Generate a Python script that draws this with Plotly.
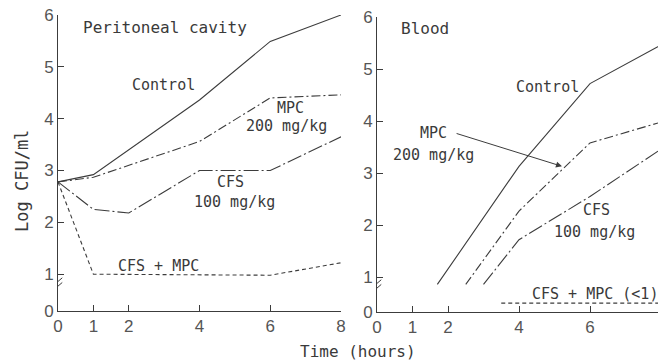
import plotly.graph_objects as go

# ---------------- data ----------------
# Peritoneal cavity (left panel)
pc_control_t = [0, 1, 4, 6, 8]
pc_control_v = [2.78, 2.92, 4.36, 5.49, 6.0]
pc_mpc_t = [0, 1, 4, 6, 8]
pc_mpc_v = [2.78, 2.87, 3.56, 4.40, 4.46]
pc_cfs_t = [0, 1, 2, 4, 6, 8]
pc_cfs_v = [2.78, 2.25, 2.18, 3.0, 3.0, 3.65]
pc_combo_t = [0, 1, 6, 8]
pc_combo_v = [2.78, 1.0, 0.98, 1.22]

# Blood (right panel)
bl_control_t = [1.7, 4, 6, 8]
bl_control_v = [0.86, 3.13, 4.72, 5.46]
bl_mpc_t = [2.5, 4, 6, 8]
bl_mpc_v = [0.86, 2.27, 3.58, 3.98]
bl_cfs_t = [3.0, 4, 6, 8]
bl_cfs_v = [0.86, 1.72, 2.55, 3.46]
bl_combo_t = [3.5, 8]
bl_combo_v = [0.5, 0.5]   # plotted below the axis break ("<1")

x_ticks = [0, 1, 2, 4, 6, 8]
y_ticks_left = [0.29, 1, 2, 3, 4, 5, 6]
y_ticks_right = [0.33, 1, 2, 3, 4, 5, 6]
y_tick_text = ["0", "1", "2", "3", "4", "5", "6"]

# ---------------- styling ----------------
W, H = 658, 362
LINE = "#3c3c3c"
TXT = "#3a3a3a"
TICKC = "#555555"
LBL_FONT = dict(family="DejaVu Sans Mono", size=15, color=TXT)
TICK_FONT = dict(family="Liberation Sans", size=17, color=TICKC)

dash_mpc = "9px,3px,2px,3px"
dash_cfs = "15px,3px,2px,3px"
dash_combo = "4px,3px"

fig = go.Figure()

def add(t, v, dash, ax):
    fig.add_trace(go.Scatter(
        x=t, y=v, mode="lines",
        line=dict(color=LINE, width=1.1, dash=dash),
        xaxis="x" if ax == 1 else "x2",
        yaxis="y" if ax == 1 else "y2",
        showlegend=False, hoverinfo="skip"))

add(pc_control_t, pc_control_v, "solid", 1)
add(pc_mpc_t, pc_mpc_v, dash_mpc, 1)
add(pc_cfs_t, pc_cfs_v, dash_cfs, 1)
add(pc_combo_t, pc_combo_v, dash_combo, 1)
add(bl_control_t, bl_control_v, "solid", 2)
add(bl_mpc_t, bl_mpc_v, dash_mpc, 2)
add(bl_cfs_t, bl_cfs_v, dash_cfs, 2)
add(bl_combo_t, bl_combo_v, dash_combo, 2)

axis_common = dict(
    showgrid=False, zeroline=False, showline=True, linecolor=LINE, linewidth=1,
    ticks="inside", ticklen=6, tickcolor=LINE, tickwidth=1,
    tickfont=TICK_FONT, automargin=False, fixedrange=True)

fig.update_layout(
    width=W, height=H,
    margin=dict(l=0, r=0, t=0, b=0),
    paper_bgcolor="white", plot_bgcolor="white",
    xaxis=dict(domain=[58 / W, 341 / W], range=[0, 8],
               tickvals=x_ticks, anchor="y", **axis_common),
    yaxis=dict(domain=[(H - 311) / H, (H - 15) / H], range=[0.29, 6],
               tickvals=y_ticks_left, ticktext=y_tick_text, anchor="x",
               **axis_common),
    xaxis2=dict(domain=[377 / W, 1.0], range=[0, (W - 377) / 35.5],
                tickvals=x_ticks, anchor="y2", **axis_common),
    yaxis2=dict(domain=[(H - 312) / H, (H - 17) / H], range=[0.33, 6],
                tickvals=y_ticks_right, ticktext=y_tick_text, anchor="x2",
                **axis_common),
)

ann = []
def label(text, x, y, ax, xanchor="center", size=None):
    f = dict(LBL_FONT)
    if size:
        f["size"] = size
    ann.append(dict(text=text, x=x, y=y,
                    xref="x" if ax == 1 else "x2",
                    yref="y" if ax == 1 else "y2",
                    xanchor=xanchor, yanchor="middle",
                    showarrow=False, font=f))

# left panel labels
label("Peritoneal cavity", 0.66, 5.76, 1, xanchor="left", size=16)
label("Control", 2.97, 4.65, 1)
label("MPC", 6.57, 4.21, 1)
label("200 mg/kg", 6.46, 3.85, 1)
label("CFS", 4.87, 2.77, 1)
label("100 mg/kg", 4.99, 2.40, 1)
label("CFS + MPC", 2.83, 1.15, 1)

# right panel labels
label("Blood", 0.62, 5.77, 2, xanchor="left", size=16)
label("Control", 4.79, 4.65, 2)
label("MPC", 1.58, 3.77, 2)
label("200 mg/kg", 1.60, 3.35, 2)
label("CFS", 6.17, 2.29, 2)
label("100 mg/kg", 6.14, 1.87, 2)
label("CFS + MPC (<1)", 6.14, 0.68, 2)

# arrow pointing at blood MPC curve
ann.append(dict(x=5.21, y=3.13, ax=2.2, ay=3.77, xref="x2", yref="y2",
                axref="x2", ayref="y2", text="", showarrow=True,
                arrowhead=2, arrowsize=1.2, arrowwidth=1, arrowcolor=LINE,
                standoff=0, startstandoff=0))

# partial "8" tick label at right edge of blood panel
ann.append(dict(text="8", x=8, y=0.33, xref="x2", yref="y2",
                xanchor="center", yanchor="top", yshift=-4,
                showarrow=False, font=TICK_FONT))

# axis titles
ann.append(dict(text="Log CFU/ml", x=22 / W, y=(H - 181) / H,
                xref="paper", yref="paper", textangle=-90,
                xanchor="center", yanchor="middle",
                showarrow=False, font=dict(family="DejaVu Sans Mono", size=17, color=TXT)))
ann.append(dict(text="Time (hours)", x=358 / W, y=(H - 351) / H,
                xref="paper", yref="paper", xanchor="center", yanchor="middle",
                showarrow=False,
                font=dict(family="DejaVu Sans Mono", size=16, color=TXT)))

fig.update_layout(annotations=ann)

# axis-break marks "//" on both y axes
shapes = []
for xr, yr, x_half, y0 in [("x", "y", 0.12, 0.70), ("x2", "y2", 0.12, 0.72)]:
    for off in (0.0, 0.09):
        shapes.append(dict(type="line", xref=xr, yref=yr,
                           x0=-x_half, x1=x_half,
                           y0=y0 + off, y1=y0 + off + 0.14,
                           line=dict(color=LINE, width=1)))
fig.update_layout(shapes=shapes)

fig.write_html("out.html")
